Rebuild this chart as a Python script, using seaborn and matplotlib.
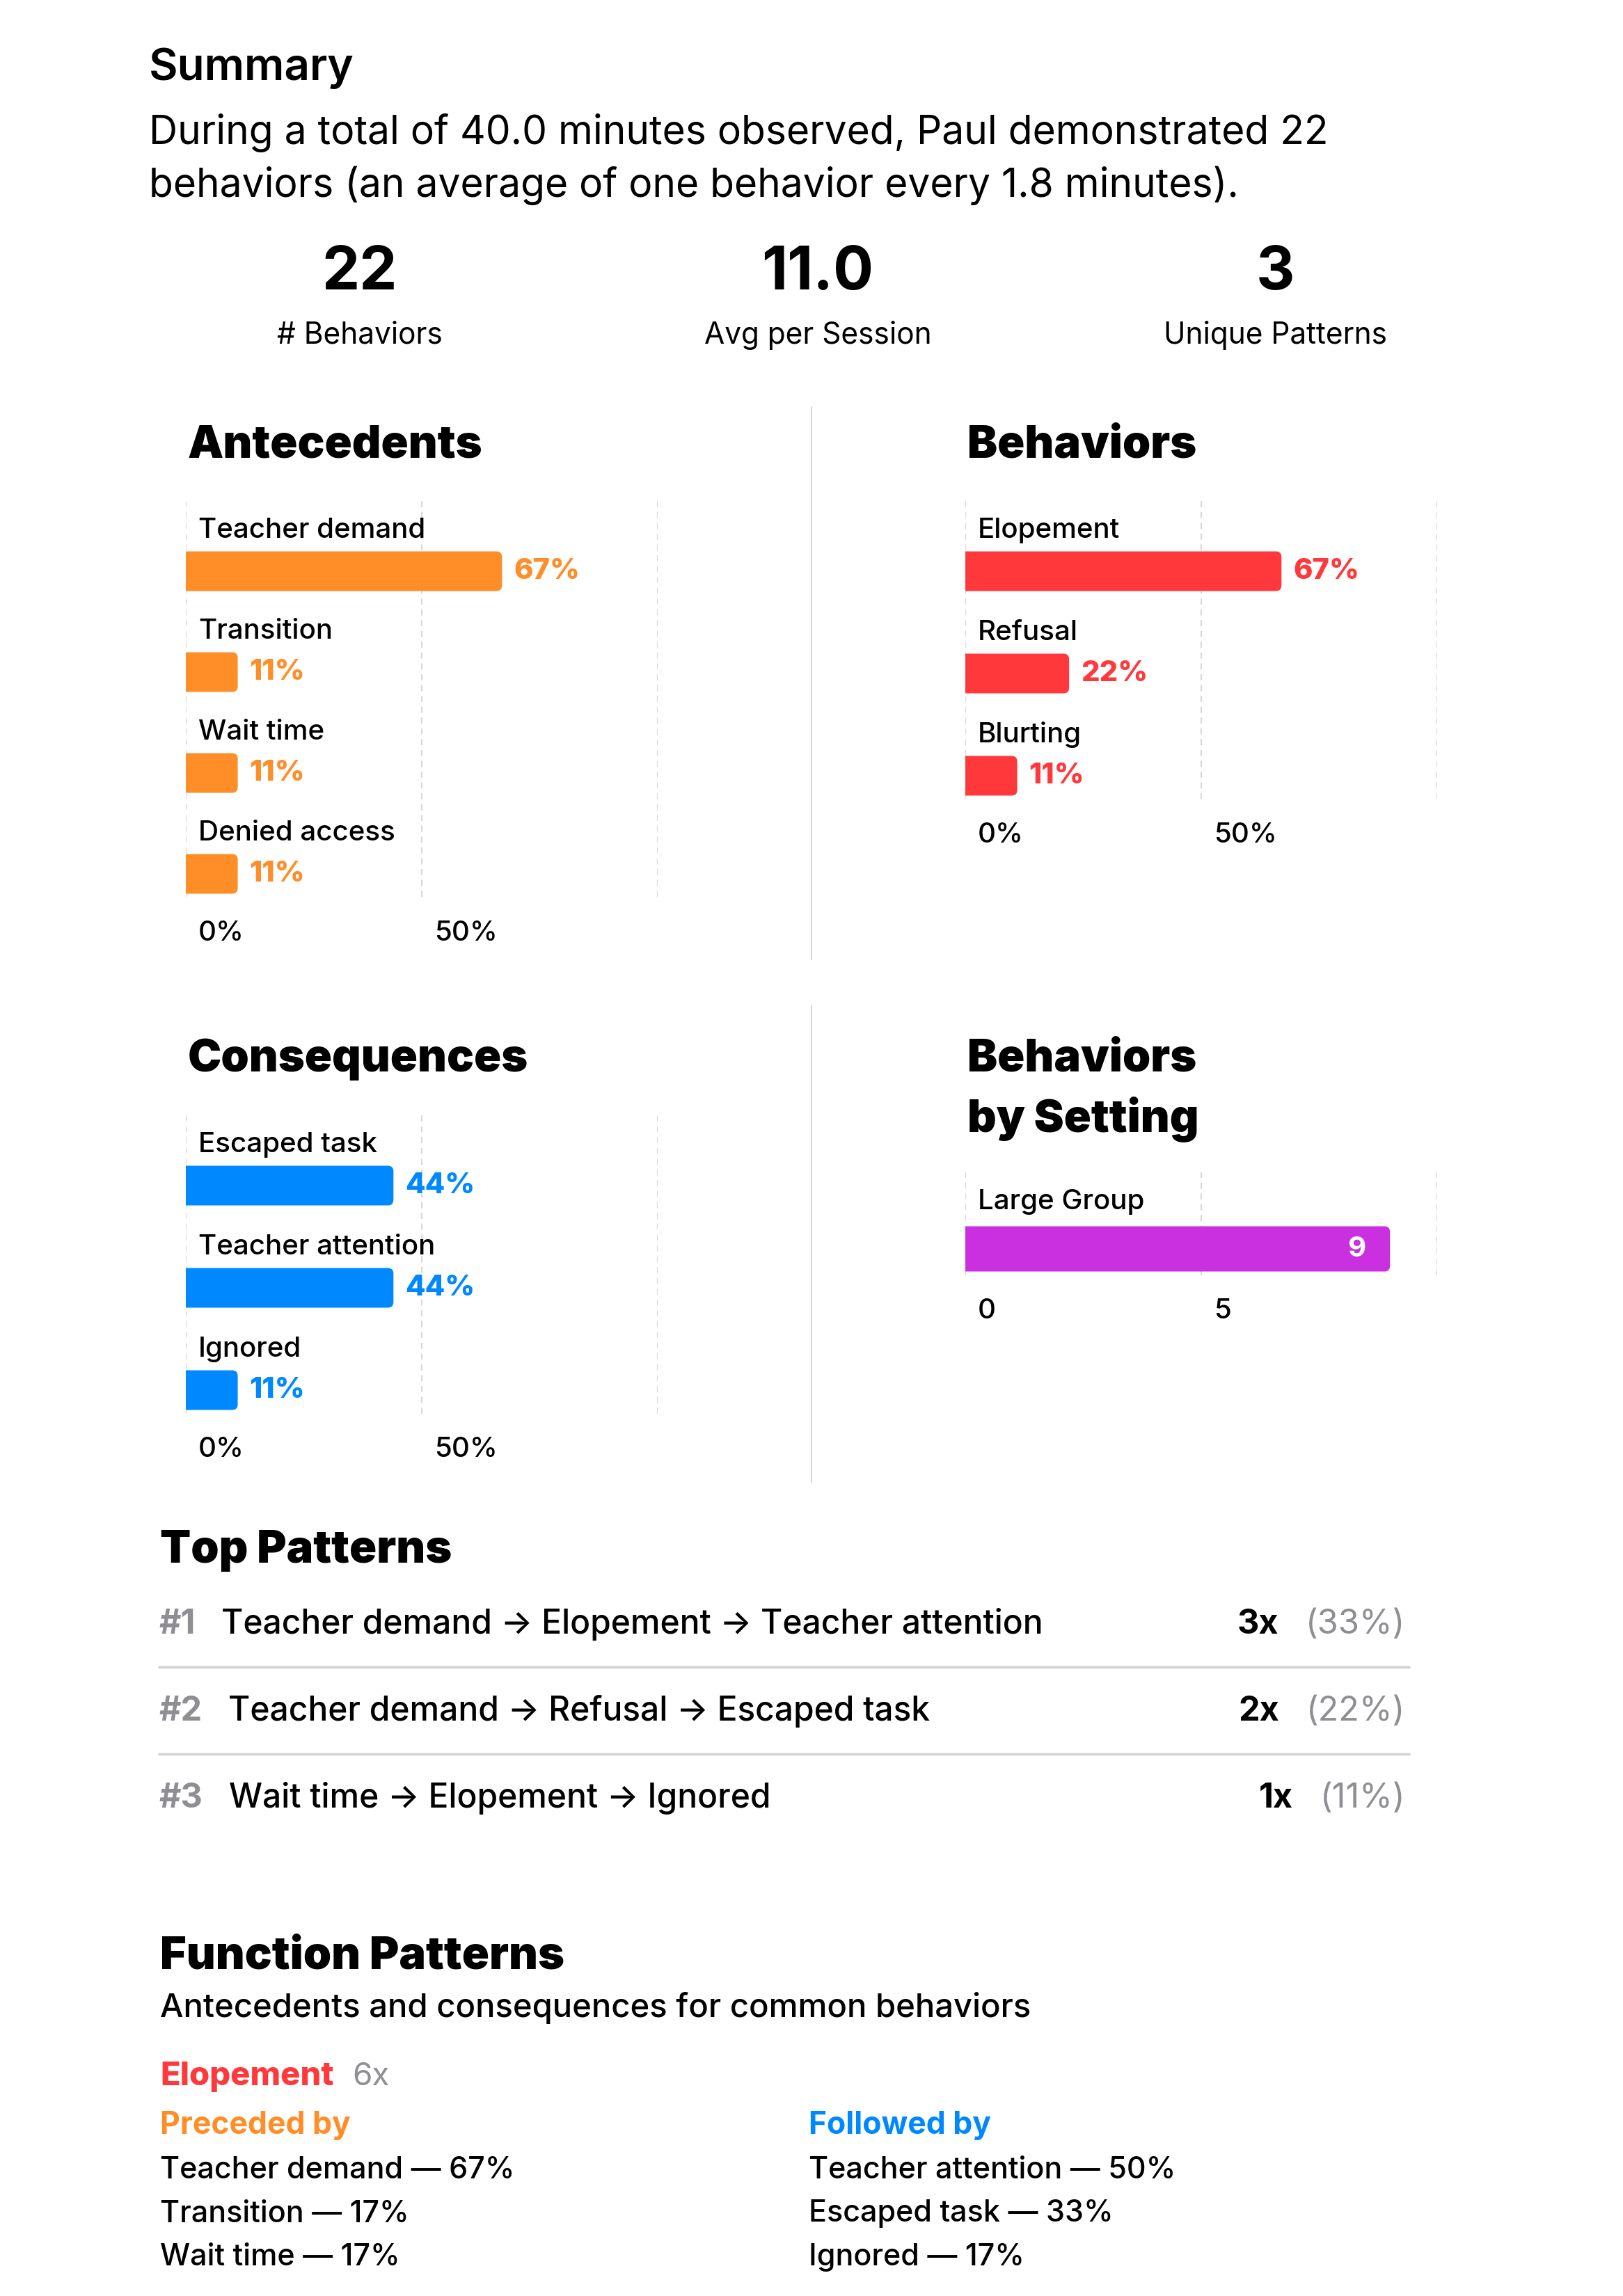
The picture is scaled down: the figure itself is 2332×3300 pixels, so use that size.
import numpy as np
import pandas as pd
import seaborn as sns
import matplotlib.pyplot as plt
from matplotlib.patches import FancyBboxPatch
from matplotlib.transforms import ScaledTranslation

# ============================================
# DATA
# ============================================

summary_lines = [
    "During a total of 40.0 minutes observed, Paul demonstrated 22",
    "behaviors (an average of one behavior every 1.8 minutes).",
]
kpi_values = ["22", "11.0", "3"]
kpi_labels = ["# Behaviors", "Avg per Session", "Unique Patterns"]

antecedent_labels = ["Teacher demand", "Transition", "Wait time", "Denied access"]
antecedent_pct = [67, 11, 11, 11]

behavior_labels = ["Elopement", "Refusal", "Blurting"]
behavior_pct = [67, 22, 11]

consequence_labels = ["Escaped task", "Teacher attention", "Ignored"]
consequence_pct = [44, 44, 11]

setting_labels = ["Large Group"]
setting_counts = [9]

pct_ticks = [0, 50, 100]
pct_ticklabels = ["0%", "50%", ""]
count_ticks = [0, 5, 10]
count_ticklabels = ["0", "5", ""]

pattern_chains = [
    "Teacher demand \u2192 Elopement \u2192 Teacher attention",
    "Teacher demand \u2192 Refusal \u2192 Escaped task",
    "Wait time \u2192 Elopement \u2192 Ignored",
]
pattern_counts = [3, 2, 1]
pattern_pct = [33, 22, 11]

focus_behavior = "Elopement"
focus_count = 6
preceded_labels = ["Teacher demand", "Transition", "Wait time"]
preceded_pct = [67, 17, 17]
followed_labels = ["Teacher attention", "Escaped task", "Ignored"]
followed_pct = [50, 33, 17]

ORANGE = "#FF8D28"
RED = "#FF383C"
BLUE = "#0088FF"
PURPLE = "#CB30E0"
GRAY = "#8E8E93"

# ============================================
# FIGURE SETUP
# ============================================

W, H, DPI = 2332, 3300, 100
PT = 72 / DPI  # points per pixel

sns.set_theme(style="white")
plt.rcParams["font.family"] = ["Inter", "DejaVu Sans"]
plt.rcParams["text.color"] = "black"
plt.rcParams["xtick.color"] = "black"

fig = plt.figure(figsize=(W / DPI, H / DPI), dpi=DPI)
fig.patch.set_facecolor("white")

# page layer in pixel units for the text blocks
page = fig.add_axes([0, 0, 1, 1])
page.set_xlim(0, W)
page.set_ylim(H, 0)
page.axis("off")


def after(prev, y, s, gap_px, **kw):
    # text placed just right of another text, on the same baseline
    return page.annotate(s, xy=(1, y), xycoords=(prev, "data"), xytext=(gap_px * PT, 0),
                         textcoords="offset points", ha="left", va="baseline", **kw)


def before(prev, y, s, gap_px, **kw):
    return page.annotate(s, xy=(0, y), xycoords=(prev, "data"), xytext=(-gap_px * PT, 0),
                         textcoords="offset points", ha="right", va="baseline", **kw)


# ============================================
# BAR PANELS
# ============================================

def bar_panel(left, right, first, step, labels, values, color, xmax, ticks, ticklabels,
              vlabels, above=0.70, below=0.23, bar_px=57, label_up=48, inside=False):
    n = len(labels)
    top = first - above * step
    bottom = first + (n - 1) * step + below * step
    ax = fig.add_axes([left / W, 1 - bottom / H, (right - left) / W, (bottom - top) / H])

    df = pd.DataFrame({"label": labels, "value": values})
    sns.barplot(data=df, x="value", y="label", orient="h", color=color, saturation=1,
                width=bar_px / step, errorbar=None, ax=ax)

    ax.set_xlim(0, xmax)
    ax.set_ylim(n - 1 + below, -above)
    ax.set_xlabel("")
    ax.set_ylabel("")
    ax.set_yticks([])
    ax.set_xticks(ticks)
    ax.set_xticklabels(ticklabels, fontweight="medium", ha="left")
    ax.tick_params(axis="x", length=0, pad=24, labelsize=29, labelcolor="black")
    for lab in ax.get_xticklabels():
        lab.set_transform(lab.get_transform() + ScaledTranslation(18 / DPI, 0, fig.dpi_scale_trans))
    ax.grid(axis="x", color="#D9D9D9", linestyle=(0, (4, 3)), linewidth=1.6)
    ax.grid(axis="y", visible=False)
    ax.set_axisbelow(True)
    sns.despine(ax=ax, left=True, bottom=True)
    ax.patch.set_alpha(0)

    cont = ax.containers[0]
    if inside:
        texts = ax.bar_label(cont, labels=vlabels, padding=-35 * PT, color="white",
                             fontsize=29, fontweight="bold")
        for t in texts:
            t.set_ha("right")
    else:
        ax.bar_label(cont, labels=vlabels, padding=17 * PT, color=color,
                     fontsize=30, fontweight="heavy")

    # category names sit above each bar
    for i, lab in enumerate(labels):
        ax.annotate(lab, xy=(0, i), xytext=(18 * PT, label_up * PT), textcoords="offset points",
                    ha="left", va="baseline", fontsize=29, fontweight="medium", color="black")

    # rounded bar ends
    rx = 8 * xmax / (right - left)
    ry = 8 * (n - 1 + below + above) / (bottom - top)
    for rect in cont.patches:
        x0, y0, w, h = rect.get_x(), rect.get_y(), rect.get_width(), rect.get_height()
        rect.set_visible(False)
        ax.add_patch(FancyBboxPatch((x0 - rx, y0), w + rx, h,
                                    boxstyle=f"round,pad=0,rounding_size={rx}",
                                    mutation_aspect=ry / rx, facecolor=color,
                                    edgecolor="none", clip_on=True, zorder=2))
    return ax


bar_panel(267, 945, 821, 145, antecedent_labels, antecedent_pct, ORANGE, 100,
          pct_ticks, pct_ticklabels, [f"{v}%" for v in antecedent_pct])
bar_panel(1387, 2065, 821, 147, behavior_labels, behavior_pct, RED, 100,
          pct_ticks, pct_ticklabels, [f"{v}%" for v in behavior_pct])
bar_panel(267, 945, 1704, 147, consequence_labels, consequence_pct, BLUE, 100,
          pct_ticks, pct_ticklabels, [f"{v}%" for v in consequence_pct])
bar_panel(1387, 2065, 1795, 146, setting_labels, setting_counts, PURPLE, 10,
          count_ticks, count_ticklabels, [str(v) for v in setting_counts],
          above=0.753, below=0.26, bar_px=65, label_up=57, inside=True)

# ============================================
# TEXT BLOCKS
# ============================================

page.text(214, 115, "Summary", fontsize=46, fontweight="semibold", va="baseline")
for i, line in enumerate(summary_lines):
    page.text(214, 207 + i * 76, line, fontsize=41, va="baseline")

for cx, val, lab in zip([517, 1175, 1833], kpi_values, kpi_labels):
    page.text(cx, 416, val, fontsize=62, fontweight="bold", ha="center", va="baseline")
    page.text(cx, 494, lab, fontsize=30.5, ha="center", va="baseline")

heading = dict(fontsize=46.5, fontweight="black", va="baseline")
page.text(270, 657, "Antecedents", **heading)
page.text(1390, 657, "Behaviors", **heading)
page.text(270, 1540, "Consequences", **heading)
page.text(1390, 1539, "Behaviors", **heading)
page.text(1390, 1627, "by Setting", **heading)

for y0, y1 in [(585, 1379), (1446, 2130)]:
    page.plot([1166, 1166], [y0, y1], color="#D9D9D9", linewidth=1.6)

# top patterns
page.text(230, 2246, "Top Patterns", **heading)
for i, (chain, cnt, pc) in enumerate(zip(pattern_chains, pattern_counts, pattern_pct)):
    y = 2348 + i * 125
    num = page.text(228, y, f"#{i + 1}", fontsize=35, fontweight="bold", color=GRAY, va="baseline")
    after(num, y, chain, 38, fontsize=34.5, fontweight="medium", color="black")
    p = page.text(2019, y, f"({pc}%)", fontsize=35, color=GRAY, ha="right", va="baseline")
    before(p, y, f"{cnt}x", 38, fontsize=35, fontweight="bold", color="black")
    if i < len(pattern_chains) - 1:
        page.plot([227, 2026], [y + 48, y + 48], color="#D1D1D6", linewidth=2.5,
                  solid_capstyle="butt")

# function patterns
page.text(230, 2829, "Function Patterns", **heading)
page.text(230, 2899, "Antecedents and consequences for common behaviors",
          fontsize=34, fontweight="medium", va="baseline")
fb = page.text(230, 2997, focus_behavior, fontsize=34, fontweight="heavy", color=RED, va="baseline")
after(fb, 2997, f"{focus_count}x", 27, fontsize=33, color=GRAY)

page.text(230, 3067, "Preceded by", fontsize=32, fontweight="bold", color=ORANGE, va="baseline")
page.text(1162, 3067, "Followed by", fontsize=32, fontweight="bold", color=BLUE, va="baseline")
for i, (lab, v) in enumerate(zip(preceded_labels, preceded_pct)):
    page.text(230, 3131 + i * 62.5, f"{lab} \u2014 {v}%", fontsize=31,
              fontweight="medium", va="baseline")
for i, (lab, v) in enumerate(zip(followed_labels, followed_pct)):
    page.text(1162, 3131 + i * 62.5, f"{lab} \u2014 {v}%", fontsize=31,
              fontweight="medium", va="baseline")

fig.savefig("out.png", dpi=DPI, facecolor="white")
